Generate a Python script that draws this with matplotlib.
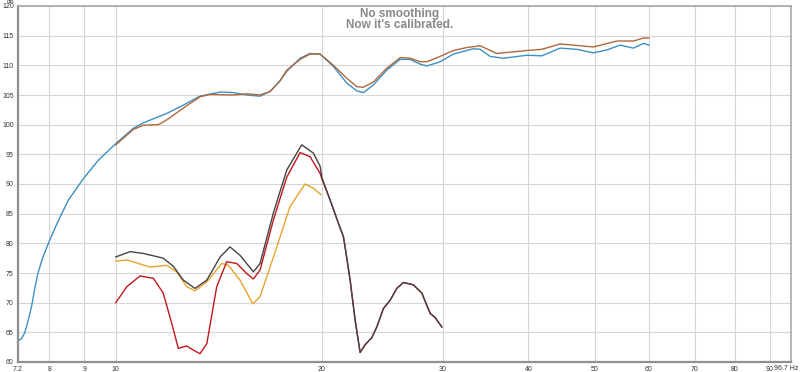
import matplotlib
matplotlib.use("Agg")
import matplotlib.pyplot as plt
from matplotlib.ticker import FixedLocator, NullLocator

plt.rcParams['font.family'] = ['Liberation Sans', 'DejaVu Sans']

# ---- data (frequency in Hz, level in dB) ----
blue_f = [7.2, 7.28, 7.37, 7.45, 7.54, 7.62, 7.70, 7.83, 8.0, 8.25, 8.53, 8.97, 9.43, 10.0,
          10.61, 10.97, 11.87, 12.55, 13.27, 14.2, 14.85, 15.53, 16.24, 16.8, 17.37, 17.77,
          18.58, 19.21, 19.87, 20.78, 21.74, 22.48, 22.98, 23.77, 24.86, 26.0, 26.89, 27.81,
          28.44, 29.74, 31.10, 32.53, 33.26, 34.02, 35.19, 36.8, 39.81, 41.86, 44.52, 47.09,
          49.8, 52.09, 54.47, 56.96, 58.9, 60.0]
blue_db = [63.6, 63.9, 65.0, 67.0, 69.5, 72.5, 75.0, 77.7, 80.4, 83.9, 87.3, 90.9, 94.0, 96.8,
           99.4, 100.3, 101.9, 103.3, 104.8, 105.5, 105.4, 105.0, 104.8, 105.6, 107.4, 109.0,
           111.2, 112.0, 111.9, 109.8, 107.0, 105.7, 105.4, 106.7, 109.2, 111.0, 111.0, 110.2,
           109.9, 110.6, 111.9, 112.5, 112.8, 112.7, 111.5, 111.2, 111.7, 111.6, 112.9, 112.7,
           112.1, 112.6, 113.4, 112.9, 113.7, 113.4]

brown_f = [10.0, 10.61, 10.97, 11.54, 11.87, 12.55, 13.27, 13.73, 14.85, 15.53, 16.24, 16.8,
           17.37, 17.77, 18.58, 19.21, 19.87, 20.78, 21.74, 22.48, 22.98, 23.77, 24.86, 26.0,
           26.89, 27.81, 28.44, 29.74, 31.10, 32.53, 34.02, 35.99, 39.81, 41.86, 44.52, 49.8,
           53.87, 56.96, 58.9, 60.0]
brown_db = [96.6, 99.2, 99.9, 100.0, 100.8, 102.8, 104.7, 105.1, 105.0, 105.2, 105.0, 105.6,
            107.4, 109.2, 111.0, 111.9, 111.9, 110.0, 107.8, 106.4, 106.3, 107.2, 109.5, 111.3,
            111.2, 110.6, 110.6, 111.5, 112.5, 113.0, 113.3, 112.0, 112.5, 112.7, 113.6, 113.1,
            114.1, 114.1, 114.6, 114.6]

tail_f = [20.55, 21.13, 21.49, 21.61, 21.98, 22.35, 22.73, 23.11, 23.64, 24.04, 24.58, 25.14,
          25.71, 26.29, 27.19, 27.97, 28.76, 29.25, 29.91]
tail_db = [87.3, 83.4, 81.1, 79.4, 73.8, 67.1, 61.6, 62.9, 64.1, 65.9, 69.0, 70.4,
           72.4, 73.4, 73.0, 71.6, 68.2, 67.5, 65.9]

black_f = [10.0, 10.49, 10.97, 11.73, 12.14, 12.55, 13.05, 13.58, 14.20, 14.68, 15.18, 15.88,
           16.24, 16.98, 17.77, 18.68, 19.43, 19.87, 20.0] + tail_f
black_db = [77.7, 78.6, 78.3, 77.5, 76.1, 73.8, 72.4, 73.8, 77.7, 79.4, 78.0, 75.2,
            76.6, 85.1, 92.4, 96.6, 95.2, 93.0, 91.0] + tail_db

red_f = [10.0, 10.38, 10.85, 11.35, 11.73, 12.07, 12.34, 12.69, 12.98, 13.27, 13.58, 14.04,
         14.52, 15.02, 15.53, 15.88, 16.24, 16.98, 17.77, 18.58, 19.21, 19.87, 20.0] + tail_f
red_db = [70.0, 72.7, 74.5, 74.1, 71.6, 66.5, 62.3, 62.7, 62.0, 61.4, 63.1, 72.7,
          76.9, 76.6, 74.9, 74.0, 75.5, 83.9, 91.2, 95.3, 94.6, 91.8, 90.8] + tail_db

orange_f = [10.0, 10.38, 11.22, 11.87, 12.27, 12.69, 13.05, 13.58, 14.28, 14.60, 15.18, 15.85,
            16.24, 17.18, 17.96, 18.89, 19.43, 19.92]
orange_db = [77.0, 77.2, 76.0, 76.3, 75.2, 72.7, 72.0, 73.5, 76.6, 76.3, 73.8, 69.8,
             71.0, 79.4, 86.2, 90.0, 89.3, 88.2]

x_ticks = [7.2, 8, 9, 10, 20, 30, 40, 50, 60, 70, 80, 90, 96.7]
x_labels = ['7.2', '8', '9', '10', '20', '30', '40', '50', '60', '70', '80', '90', '96.7 Hz']
y_ticks = [60, 65, 70, 75, 80, 85, 90, 95, 100, 105, 110, 115, 120]
title_lines = "No smoothing\nNow it's calibrated."

# ---- figure ----
fig = plt.figure(figsize=(8.0, 3.72), dpi=100)
ax = fig.add_axes([18 / 800, 1 - 362 / 372, (791 - 18) / 800, (362 - 6) / 372])
ax.set_xscale('log')
ax.set_xlim(7.2, 96.7)
ax.set_ylim(60, 120)

ax.xaxis.set_major_locator(FixedLocator(x_ticks))
ax.xaxis.set_minor_locator(NullLocator())
ax.set_xticklabels(x_labels[:-1] + [''])
ax.set_yticks(y_ticks)
ax.set_yticklabels([str(v) for v in y_ticks])
ax.tick_params(axis='both', length=0, labelsize=5, colors='#333333', pad=3)
ax.grid(True, color='#d6d6d6', linewidth=0.8)
ax.set_axisbelow(True)
for side, sp in ax.spines.items():
    sp.set_color('#a8a8a8')
    sp.set_linewidth(1.2)
ax.spines['left'].set_color('#909090')
ax.spines['left'].set_linewidth(1.6)
ax.spines['bottom'].set_color('#909090')
ax.spines['bottom'].set_linewidth(1.6)

lw = 1.0
ax.plot(blue_f, blue_db, color='#3d8fc4', lw=lw)
ax.plot(brown_f, brown_db, color='#b0683a', lw=lw)
ax.plot(orange_f, orange_db, color='#e8a42a', lw=lw)
ax.plot(red_f, red_db, color='#c2161c', lw=lw)
ax.plot(black_f, black_db, color='#444444', lw=lw)

# last x label (right-aligned so it stays inside the figure)
ax.annotate(x_labels[-1], xy=(x_ticks[-1], 60), xycoords='data',
            xytext=(5, -4.6), textcoords='offset points', fontsize=5, color='#333333',
            ha='right', va='center', annotation_clip=False)

fig.text(11 / 800, 1 - 1.5 / 372, 'dB', fontsize=4.5, color='#333333', ha='center', va='center')
fig.text(400 / 800, 1 - 19.5 / 372, title_lines, fontsize=8.5, fontweight='bold',
         color='#888888', ha='center', va='center', linespacing=0.95)

fig.savefig('out.png', dpi=100, facecolor='white')
